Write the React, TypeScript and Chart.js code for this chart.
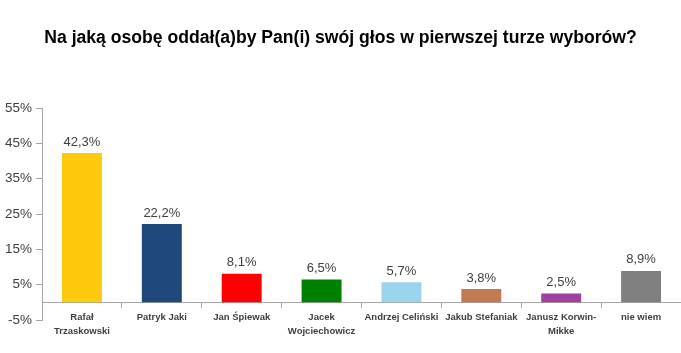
import React, { useEffect, useRef } from "react";
import { Chart, registerables } from "chart.js";

Chart.register(...registerables);

const title = "Na jaką osobę oddał(a)by Pan(i) swój głos w pierwszej turze wyborów?";
const categories: (string | string[])[] = [
  ["Rafał", "Trzaskowski"],
  "Patryk Jaki",
  "Jan Śpiewak",
  ["Jacek", "Wojciechowicz"],
  "Andrzej Celiński",
  "Jakub Stefaniak",
  ["Janusz Korwin-", "Mikke"],
  "nie wiem",
];
const values = [42.3, 22.2, 8.1, 6.5, 5.7, 3.8, 2.5, 8.9];
const valueLabels = ["42,3%", "22,2%", "8,1%", "6,5%", "5,7%", "3,8%", "2,5%", "8,9%"];
const barColors = ["#FFC90E", "#1F497D", "#FF0000", "#008000", "#99D5EC", "#C27A52", "#A040A0", "#808080"];
const yMin = -5;
const yMax = 55;
const yStep = 10;

const valueLabelPlugin = {
  id: "valueLabels",
  afterDatasetsDraw(chart: any) {
    const ctx = chart.ctx;
    const meta = chart.getDatasetMeta(0);
    ctx.save();
    ctx.font = "13px 'Liberation Sans', Arial, sans-serif";
    ctx.fillStyle = "#404040";
    ctx.textAlign = "center";
    ctx.textBaseline = "middle";
    meta.data.forEach((bar: any, i: number) => {
      ctx.fillText(valueLabels[i], bar.x, bar.y - 11);
    });
    ctx.restore();
  },
};

export default function App() {
  const ref = useRef<HTMLCanvasElement>(null);
  useEffect(() => {
    if (!ref.current) return;
    const chart = new Chart(ref.current, {
      type: "bar",
      data: {
        labels: categories,
        datasets: [
          {
            data: values,
            backgroundColor: barColors,
            borderWidth: 0,
            barPercentage: 0.5,
            categoryPercentage: 1,
          },
        ],
      },
      options: {
        animation: false,
        responsive: true,
        maintainAspectRatio: false,
        layout: { padding: { left: 0, right: 0, top: 0, bottom: 33 } },
        plugins: {
          legend: { display: false },
          tooltip: { enabled: false },
          title: {
            display: true,
            text: title,
            color: "#000000",
            font: { family: "'Liberation Sans', Arial, sans-serif", size: 17.6, weight: "bold" },
            padding: { top: 28, bottom: 59 },
          },
        },
        scales: {
          x: {
            position: { y: 0 } as any,
            grid: {
              drawOnChartArea: false,
              drawTicks: true,
              tickLength: 5,
              color: "#A6A6A6",
            },
            border: { display: true, color: "#A6A6A6", width: 1 },
            ticks: {
              autoSkip: false,
              maxRotation: 0,
              minRotation: 0,
              padding: 3,
              color: "#404040",
              font: { family: "'Liberation Sans', Arial, sans-serif", size: 9.5, weight: "bold", lineHeight: 1.45 },
            },
          },
          y: {
            min: yMin,
            max: yMax,
            afterFit: (scale: any) => {
              scale.width = 42;
            },
            grid: {
              drawOnChartArea: false,
              drawTicks: true,
              tickLength: 6,
              color: "#A6A6A6",
            },
            border: { display: true, color: "#A6A6A6", width: 1 },
            ticks: {
              stepSize: yStep,
              padding: 4,
              color: "#404040",
              font: { family: "'Liberation Sans', Arial, sans-serif", size: 13.5 },
              callback: (v: any) => `${v}%`,
            },
          },
        },
      },
      plugins: [valueLabelPlugin],
    });
    return () => chart.destroy();
  }, []);
  return (
    <div style={{ position: "absolute", left: 0, top: 0, width: 681, height: 353, background: "#fff" }}>
      <canvas ref={ref} />
    </div>
  );
}
